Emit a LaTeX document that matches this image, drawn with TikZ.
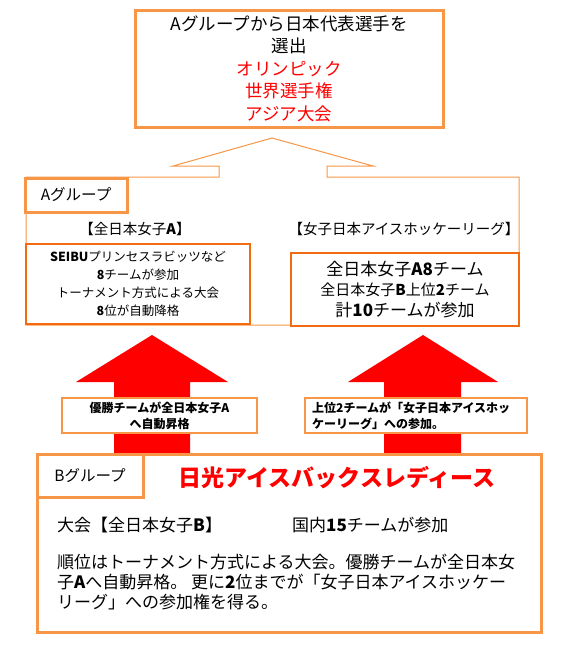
\documentclass[tikz,border=0pt]{standalone}
\usepackage{fontspec}
\setmainfont{Noto Sans CJK JP}
\definecolor{boxorange}{HTML}{F79646}
\definecolor{darkorange}{HTML}{F26B10}
\definecolor{arrowred}{HTML}{FF0000}
\newcommand{\fs}[2]{\fontsize{#1}{#2}\selectfont}
\newcommand{\bb}[1]{{\bfseries #1}}
\tikzset{
  thickbox/.style={draw=boxorange, line width=3pt, fill=white, inner sep=0pt},
  thinbox/.style={draw=darkorange, line width=1.5pt, fill=white, inner sep=0pt},
  labelbox/.style={draw=boxorange, line width=2.5pt, fill=white, inner sep=0pt},
  outline/.style={draw=boxorange, line width=1pt},
  bigarrow/.style={fill=arrowred, draw=none},
  plain/.style={inner sep=0pt, align=center}
}
\begin{document}
\begin{tikzpicture}[x=1pt,y=-1pt]
\useasboundingbox (0,0) rectangle (575,645);
% top box
\node (top) [thickbox, minimum width=308pt, minimum height=117pt, align=center, font=\fs{17.5}{22.5}] at (289,68.5)
  {Aグループから日本代表選手を\\選出\\\textcolor{arrowred}{オリンピック}\\\textcolor{arrowred}{世界選手権}\\\textcolor{arrowred}{アジア大会}};
% A group callout outline
\draw[outline] (26,177) -- (219,177) -- (219,166) -- (173,166) -- (272,138) -- (373,166)
  -- (327,166) -- (327,177) -- (519,177) -- (519,325) -- (26,325) -- cycle;
\node (agrp) [thickbox, minimum width=102pt, minimum height=34pt, font=\fs{15.5}{18}] at (76,195) {Aグループ};
\node (atitleL) [plain, font=\fs{14.5}{18}] at (135,229) {【全日本女子\bb{A}】};
\node (atitleR) [plain, font=\fs{14.5}{18}] at (404,229) {【女子日本アイスホッケーリーグ】};
\node (boxL) [thinbox, minimum width=224pt, minimum height=80pt, align=center, font=\fs{12.5}{18}] at (138,284)
  {\bb{SEIBU}プリンセスラビッツなど\\\bb{8}チームが参加\\トーナメント方式による大会\\\bb{8}位が自動降格};
\node (boxR) [thinbox, minimum width=228pt, minimum height=73pt, align=center, font=\fs{17}{20.5}] at (405,289.5)
  {全日本女子\bb{A8}チーム\\{\fs{15}{20.5}全日本女子\bb{B}上位\bb{2}チーム}\\計\bb{10}チームが参加};
% arrows
\fill[bigarrow] (114,453) -- (114,382) -- (76,382) -- (152,335) -- (228,382) -- (190,382) -- (190,453) -- cycle;
\fill[bigarrow] (384,453) -- (384,382) -- (348,382) -- (423,335) -- (498,382) -- (461,382) -- (461,453) -- cycle;
\node (lblL) [labelbox, minimum width=195pt, minimum height=35pt, align=center, font=\bfseries\fs{12}{16}] at (159.5,415.5)
  {優勝チームが全日本女子A\\へ自動昇格};
\node (lblR) [labelbox, minimum width=222pt, minimum height=35pt, font=\bfseries\fs{12}{16}] at (416,415.5) {};
\node (lblRt) [plain, align=left, anchor=west, font=\bfseries\fs{12}{16}] at (312,416)
  {上位2チームが「女子日本アイスホッ\\ケーリーグ」への参加。};
% B group
\node (bbox) [thickbox, minimum width=504pt, minimum height=178pt] at (289,543) {};
\node (bgrp) [thickbox, minimum width=106pt, minimum height=43pt, font=\fs{15.5}{18}] at (90,475.5) {Bグループ};
\node (btitle) [plain, text=arrowred, font=\bfseries\fs{23}{26}] at (337,478) {日光アイスバックスレディース};
\node (bline1) [plain, anchor=west, font=\fs{17}{20}] at (57,525) {大会【全日本女子\bb{B}】};
\node (bline2) [plain, anchor=west, font=\fs{17}{20}] at (292,525) {国内\bb{15}チームが参加};
\node (bpara) [plain, align=left, anchor=west, font=\fs{17}{20}] at (57,582)
  {順位はトーナメント方式による大会。優勝チームが全日本女\\子\bb{A}へ自動昇格。 更に\bb{2}位までが「女子日本アイスホッケー\\リーグ」への参加権を得る。};
\end{tikzpicture}
\end{document}
